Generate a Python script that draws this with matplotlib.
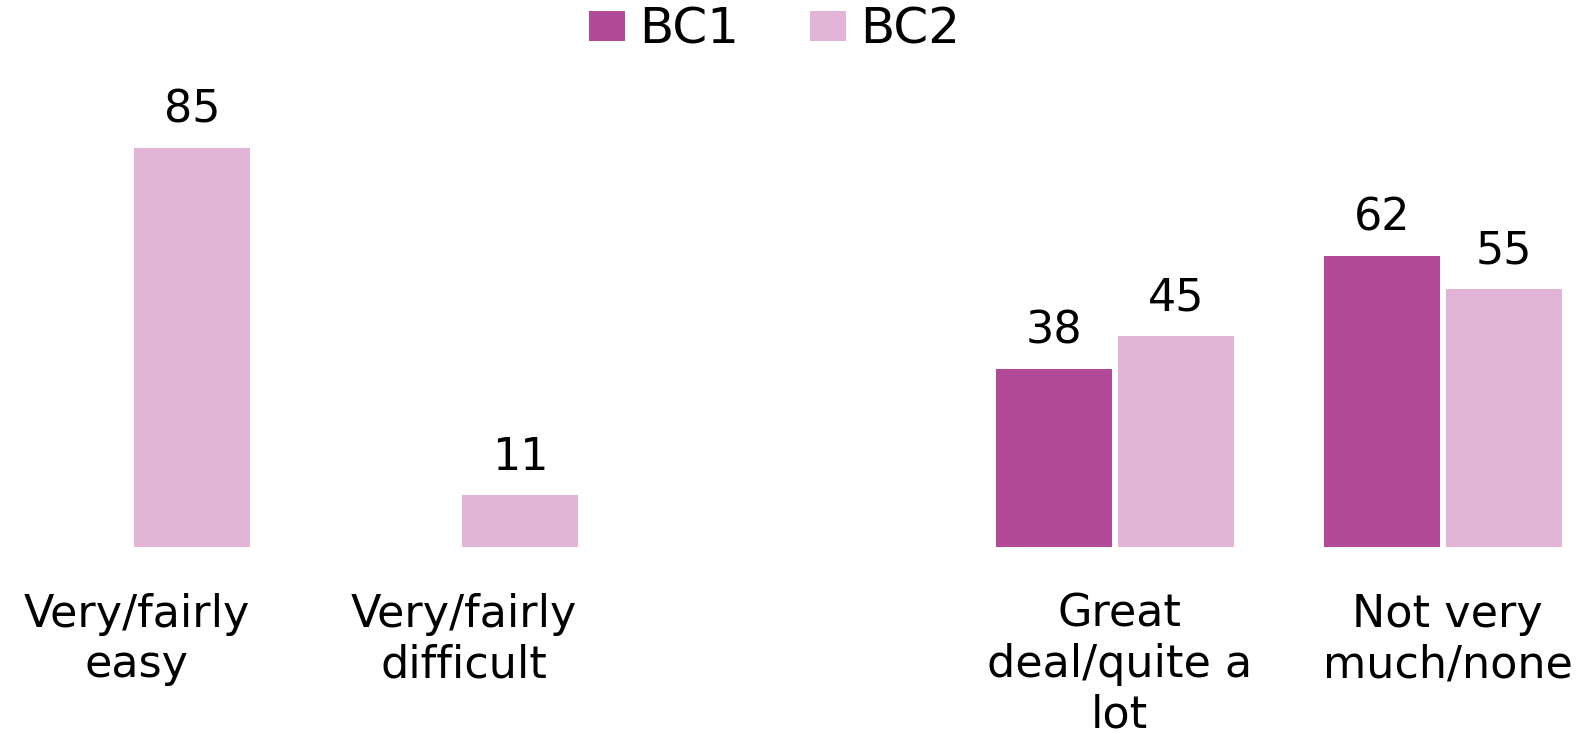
import matplotlib
matplotlib.use("Agg")
import matplotlib.pyplot as plt
import numpy as np

# Data
categories = ["Very/fairly\neasy", "Very/fairly\ndifficult", "",
              "Great\ndeal/quite a\nlot", "Not very\nmuch/none"]
bc1 = [np.nan, np.nan, np.nan, 38, 62]
bc2 = [85, 11, np.nan, 45, 55]
series_names = ["BC1", "BC2"]

c_bc1 = "#B24A98"
c_bc2 = "#E2B5D6"

plt.rcParams["font.family"] = ["DejaVu Sans"]

fig = plt.figure(figsize=(15.84, 7.34), dpi=100)
ax = fig.add_axes([0, 0.2548, 1, 0.7452])

x = np.arange(len(categories))
width = 0.354
gap = 0.018
off = (width + gap) / 2

b1 = ax.bar(x - off, bc1, width, color=c_bc1, label=series_names[0])
b2 = ax.bar(x + off, bc2, width, color=c_bc2, label=series_names[1])

# Value labels above bars
for xs, vals in [(x - off, bc1), (x + off, bc2)]:
    for xi, v in zip(xs, vals):
        if np.isnan(v):
            continue
        ax.annotate(f"{v:g}", (xi, v), xytext=(0, 18.5), textcoords="offset points",
                    ha="center", va="baseline", fontsize=32, color="black")

ax.set_xlim(-0.401, 4.431)
ax.set_ylim(0, 116.6)

ax.set_xticks(x + 0.015)
ax.set_xticklabels(categories, fontsize=32, linespacing=1.22)
ax.tick_params(axis="x", length=0, pad=33)
ax.set_yticks([])
for s in ax.spines.values():
    s.set_visible(False)

fig.legend(handles=[b1, b2], labels=series_names, loc="center",
           bbox_to_anchor=(774.5 / 1584, 1 - 29.5 / 734), ncol=2, frameon=False,
           fontsize=36, handlelength=0.72, handleheight=0.55, handletextpad=0.3,
           columnspacing=1.4, borderpad=0, borderaxespad=0)

fig.savefig("out.png", dpi=100)
